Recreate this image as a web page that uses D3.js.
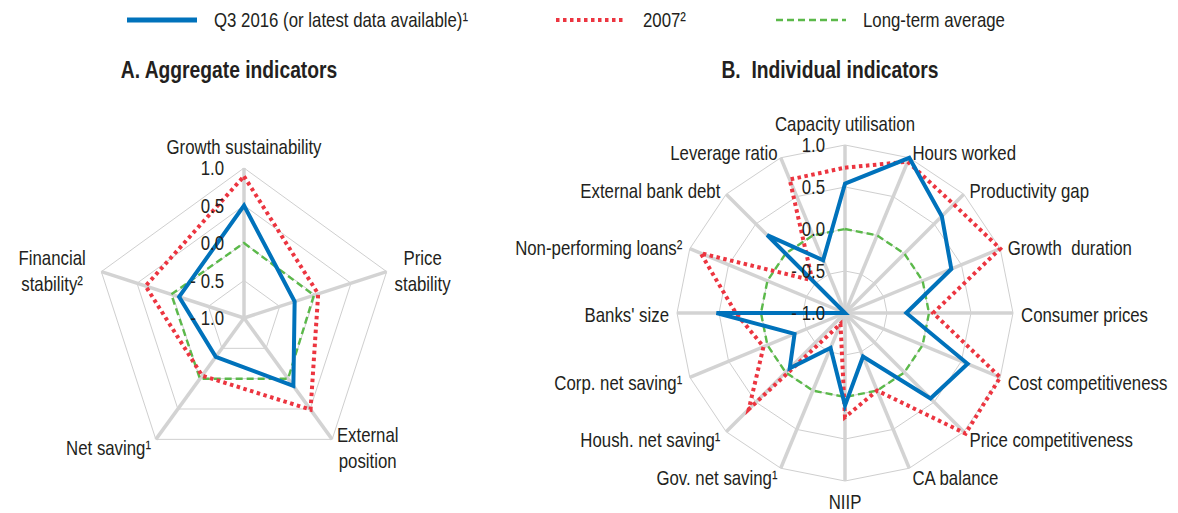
<!DOCTYPE html>
<html lang="en">

<head>
    <meta charset="UTF-8">
    <title>Aggregate and individual indicators</title>
    <script src="https://d3js.org/d3.v7.min.js"></script>
    <style>
        body {
            margin: 0;
            background: #fff;
        }

        text {
            font-family: 'Liberation Sans Narrow', 'Arial Narrow', 'Liberation Sans', Arial, sans-serif;
            fill: #231f20;
            white-space: pre;
        }

        .spoke {
            stroke: #d3d3d3;
            stroke-width: 3.5px;
        }

        .ring {
            fill: none;
            stroke: #cfcfcf;
            stroke-width: 1px;
        }
    </style>
</head>

<body>

    <script>
        const width = 1178;
        const height = 513;

        // Panel A data
        const axesA = ['Growth sustainability', 'Price\nstability', 'External\nposition', 'Net saving¹', 'Financial\nstability²'];
        const q3A = [0.5, -0.29, 0.12, -0.36, -0.09];
        const y2007A = [0.89, 0.04, 0.51, -0.05, 0.38];
        const ltaA = [0.0, -0.02, 0.0, 0.0, 0.02];

        // Panel B data
        const axesB = ['Capacity utilisation', 'Hours worked', 'Productivity gap', 'Growth  duration',
            'Consumer prices', 'Cost competitiveness', 'Price competitiveness', 'CA balance', 'NIIP',
            'Gov. net saving¹', 'Housh. net saving¹', 'Corp. net saving¹', "Banks' size",
            'Non-performing loans²', 'External bank debt', 'Leverage ratio'];
        const q3B = [0.54, 1.0, 0.63, 0.37, -0.27, 0.58, 0.44, -0.44, 0.1, -0.55, -0.07, -0.35, 0.53, -1.0, 0.31, -0.32];
        const y2007B = [0.73, 0.95, 0.83, 1.0, 0.05, 1.0, 1.03, 0.0, 0.24, -0.86, 0.62, 0.05, 0.3, 0.86, -0.45, 0.72];
        const ltaB = [0, 0, 0, 0, 0, 0, 0, 0, 0, 0, 0, 0, 0, 0, 0, 0];

        const ticks = [1.0, 0.5, 0.0, -0.5, -1.0];
        const seriesNames = ['Q3 2016 (or latest data available)¹', '2007²', 'Long-term average'];

        const styles = [
            { color: '#0072bb', width: 4, dash: null },
            { color: '#ec3540', width: 4, dash: '3.5,3.5' },
            { color: '#5bb94a', width: 2.4, dash: '7,4' }
        ];

        // the reference font is a condensed grotesque; squeeze the regular one horizontally
        const narrow = 0.82;

        const svg = d3.select('body').append('svg')
            .attr('width', width)
            .attr('height', height);

        // put a text at (x, y), squeezed horizontally
        function place(sel, x, y) {
            return sel.attr('transform', `translate(${x},${y}) scale(${narrow},1)`);
        }

        // Legend
        const legendX = [127, 556, 776];
        const legend = svg.selectAll('.legend')
            .data(seriesNames)
            .enter().append('g')
            .attr('transform', (d, i) => `translate(${legendX[i]},20)`);

        legend.append('line')
            .attr('x1', 0).attr('x2', 70)
            .attr('stroke', (d, i) => styles[i].color)
            .attr('stroke-width', (d, i) => i === 0 ? 5 : styles[i].width)
            .attr('stroke-dasharray', (d, i) => styles[i].dash);

        legend.append('text')
            .attr('dy', '0.35em')
            .style('font-size', '20.5px')
            .text(d => d)
            .call(place, 87, 0);

        function radar(cx, cy, R, title, axes, series) {
            const g = svg.append('g').attr('transform', `translate(${cx},${cy})`);
            const n = axes.length;
            const step = 2 * Math.PI / n;
            const r = d3.scaleLinear().domain([-1, 1]).range([0, R]);

            const ring = d3.lineRadial()
                .angle((d, i) => i * step)
                .radius(d => r(d))
                .curve(d3.curveLinearClosed);

            // rings
            g.selectAll('.ring')
                .data(ticks.filter(t => t > -1))
                .enter().append('path')
                .attr('class', 'ring')
                .attr('d', t => ring(d3.range(n).map(() => t)));

            // spokes
            g.selectAll('.spoke')
                .data(axes)
                .enter().append('line')
                .attr('class', 'spoke')
                .attr('x1', 0).attr('y1', 0)
                .attr('x2', (d, i) => R * Math.sin(i * step))
                .attr('y2', (d, i) => -R * Math.cos(i * step));

            // series (drawn green, red, blue)
            [2, 1, 0].forEach(k => {
                g.append('path')
                    .attr('d', ring(series[k]))
                    .attr('fill', 'none')
                    .attr('stroke', styles[k].color)
                    .attr('stroke-width', styles[k].width)
                    .attr('stroke-dasharray', styles[k].dash)
                    .attr('stroke-linejoin', 'miter');
            });

            // tick labels
            g.selectAll('.tick')
                .data(ticks)
                .enter().append('text')
                .attr('dy', '0.35em')
                .attr('text-anchor', 'end')
                .style('font-size', '20.5px')
                .text(d => d < 0 ? '- ' + Math.abs(d).toFixed(1) : d.toFixed(1))
                .each(function (d) { place(d3.select(this), -20, -r(d)); });

            // axis labels
            axes.forEach((name, i) => {
                const a = i * step;
                const s = Math.sin(a), c = Math.cos(a);
                let x = (R + 8) * s;
                let y = -(R + 8) * c;
                let anchor = s > 0.1 ? 'start' : (s < -0.1 ? 'end' : 'middle');
                if (Math.abs(s) <= 0.1) y += c > 0 ? -15 : 11;
                const lines = name.split('\n');
                const t = g.append('text')
                    .attr('text-anchor', 'middle')
                    .style('font-size', '20.5px');
                lines.forEach((ln, j) => {
                    t.append('tspan')
                        .attr('x', 0)
                        .attr('y', (j - (lines.length - 1) / 2) * 26)
                        .attr('dy', '0.35em')
                        .text(ln);
                });
                const w = t.node().getBBox().width * narrow;
                let tx = x;
                if (anchor === 'start') tx = x + w / 2;
                if (anchor === 'end') tx = x - w / 2 - (lines.length > 1 ? 8 : 0);
                place(t, tx, y + 2);
            });

            svg.append('text')
                .attr('text-anchor', 'middle')
                .style('font-size', '23.5px')
                .style('font-weight', 'bold')
                .text(title)
                .call(place, cx - 15, 78);
        }

        radar(244, 318, 150, 'A. Aggregate indicators', axesA, [q3A, y2007A, ltaA]);
        radar(845, 313, 168, 'B.  Individual indicators', axesB, [q3B, y2007B, ltaB]);
    </script>

</body>

</html>
